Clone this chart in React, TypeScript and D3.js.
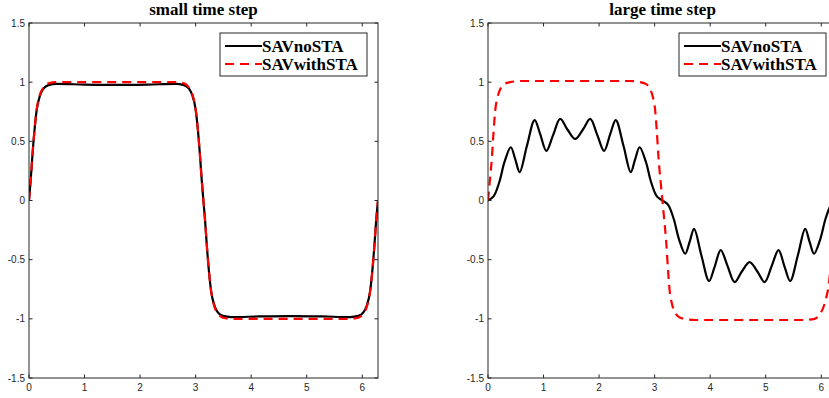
import React from 'react';
import * as d3 from 'd3';

// axis ticks and labels
const xTicks = [0, 1, 2, 3, 4, 5, 6];
const yTicks = [-1.5, -1, -0.5, 0, 0.5, 1, 1.5];
const seriesNames = ['SAVnoSTA', 'SAVwithSTA'];
const titles = ['small time step', 'large time step'];

// small time step: both series share the same x samples
const smallX = [
  0, 0.03, 0.06, 0.1, 0.14, 0.2, 0.26, 0.35, 0.5, 1.0, 1.57, 2.14, 2.64, 2.79, 2.88, 2.94, 3.0, 3.04, 3.08, 3.11, 3.14,
  3.17, 3.2, 3.24, 3.28, 3.34, 3.4, 3.49, 3.64, 4.14, 4.71, 5.28, 5.78, 5.93, 6.02, 6.08, 6.14, 6.18, 6.22, 6.25, 6.283,
];
const smallNoSTA = [
  0, 0.17, 0.37, 0.6, 0.77, 0.89, 0.945, 0.975, 0.985, 0.98, 0.977, 0.98, 0.985, 0.975, 0.945, 0.89, 0.77, 0.6, 0.37, 0.17, 0,
  -0.17, -0.37, -0.6, -0.77, -0.89, -0.945, -0.975, -0.985, -0.98, -0.977, -0.98, -0.985, -0.975, -0.945, -0.89, -0.77, -0.6, -0.37, -0.17, 0,
];
const smallWithSTA = [
  0, 0.17, 0.37, 0.6, 0.77, 0.9, 0.955, 0.99, 1.0, 1.0, 1.0, 1.0, 1.0, 0.99, 0.955, 0.9, 0.77, 0.6, 0.37, 0.17, 0,
  -0.17, -0.37, -0.6, -0.77, -0.9, -0.955, -0.99, -1.0, -1.0, -1.0, -1.0, -1.0, -0.99, -0.955, -0.9, -0.77, -0.6, -0.37, -0.17, 0,
];

// large time step
const largeNoX = [
  0, 0.1, 0.2, 0.3, 0.41, 0.49, 0.57, 0.7, 0.84, 0.94, 1.05, 1.17, 1.3, 1.43, 1.57, 1.71, 1.84, 1.97, 2.09, 2.2, 2.3, 2.44,
  2.57, 2.65, 2.73, 2.84, 2.94, 3.04, 3.14,
  3.24, 3.34, 3.44, 3.55, 3.63, 3.71, 3.84, 3.98, 4.08, 4.19, 4.31, 4.44, 4.57, 4.71, 4.85, 4.98, 5.11, 5.23, 5.34, 5.44,
  5.58, 5.71, 5.79, 5.87, 5.98, 6.08, 6.18, 6.283,
];
const largeNoSTA = [
  0, 0.035, 0.15, 0.33, 0.45, 0.35, 0.24, 0.46, 0.68, 0.56, 0.42, 0.55, 0.69, 0.6, 0.52, 0.6, 0.69, 0.55, 0.42, 0.56, 0.68, 0.46,
  0.24, 0.35, 0.45, 0.33, 0.15, 0.035, 0,
  -0.035, -0.15, -0.33, -0.45, -0.35, -0.24, -0.46, -0.68, -0.56, -0.42, -0.55, -0.69, -0.6, -0.52, -0.6, -0.69, -0.55, -0.42, -0.56, -0.68,
  -0.46, -0.24, -0.35, -0.45, -0.33, -0.15, -0.035, 0,
];
const largeWithX = [
  0, 0.03, 0.07, 0.1, 0.13, 0.17, 0.22, 0.3, 0.4, 0.6, 1.2, 1.94, 2.54, 2.74, 2.84, 2.92, 2.97, 3.01, 3.04, 3.07, 3.11, 3.14,
  3.17, 3.21, 3.24, 3.27, 3.31, 3.36, 3.44, 3.54, 3.74, 4.34, 5.08, 5.68, 5.88, 5.96, 6.04, 6.1, 6.13, 6.18, 6.23, 6.283,
];
const largeWithSTA = [
  0, 0.15, 0.36, 0.58, 0.76, 0.87, 0.94, 0.985, 1.0, 1.01, 1.01, 1.01, 1.01, 1.0, 0.985, 0.94, 0.87, 0.76, 0.58, 0.36, 0.15, 0,
  -0.15, -0.36, -0.58, -0.76, -0.87, -0.94, -0.985, -1.0, -1.01, -1.01, -1.01, -1.01, -1.0, -0.97, -0.9, -0.8, -0.73, -0.5, -0.25, 0,
];

const W = 829;
const H = 398;
const axColor = '#262626';

type PanelProps = {
  left: number;
  title: string;
  noX: number[];
  noY: number[];
  withX: number[];
  withY: number[];
  smooth: d3.CurveFactory;
};

const Panel = ({ left, title, noX, noY, withX, withY, smooth }: PanelProps) => {
  const x = d3.scaleLinear().domain([0, 2 * Math.PI]).range([left, left + 349]);
  const y = d3.scaleLinear().domain([-1.5, 1.5]).range([378, 23]);
  const [x0, x1] = x.range();
  const [y0, y1] = y.range();
  const clipId = `clip-${left}`;

  const noLine = d3.line<number>().x((d, i) => x(noX[i])).y(d => y(d)).curve(smooth);
  const withLine = d3.line<number>().x((d, i) => x(withX[i])).y(d => y(d)).curve(d3.curveMonotoneX);

  const legX = x1 - 11 - 147;
  const legY = 33;

  return (
    <g>
      <defs>
        <clipPath id={clipId}>
          <rect x={x0} y={y1} width={x1 - x0} height={y0 - y1} />
        </clipPath>
      </defs>
      <text x={(x0 + x1) / 2} y={15} textAnchor="middle" fontFamily="'Liberation Serif', serif"
        fontWeight="bold" fontSize={17} fill="#000">{title}</text>

      {/* curves */}
      <g clipPath={`url(#${clipId})`}>
        <path d={noLine(noY) || ''} fill="none" stroke="#000" strokeWidth={2.2} />
        <path d={withLine(withY) || ''} fill="none" stroke="#ff0000" strokeWidth={2.2} strokeDasharray="9,6" />
      </g>

      {/* box */}
      <rect x={x0} y={y1} width={x1 - x0} height={y0 - y1} fill="none" stroke={axColor} strokeWidth={1} />

      {/* x ticks */}
      {xTicks.map(t => (
        <g key={`x${t}`}>
          <line x1={x(t)} x2={x(t)} y1={y0} y2={y0 - 3.5} stroke={axColor} />
          <line x1={x(t)} x2={x(t)} y1={y1} y2={y1 + 3.5} stroke={axColor} />
          <text x={x(t)} y={y0 + 13} textAnchor="middle" fontFamily="'Liberation Sans', Arial, sans-serif"
            fontSize={10} fill={axColor}>{t}</text>
        </g>
      ))}
      {/* y ticks */}
      {yTicks.map(t => (
        <g key={`y${t}`}>
          <line x1={x0} x2={x0 + 3.5} y1={y(t)} y2={y(t)} stroke={axColor} />
          <line x1={x1} x2={x1 - 3.5} y1={y(t)} y2={y(t)} stroke={axColor} />
          <text x={x0 - 4} y={y(t) + 3.5} textAnchor="end" fontFamily="'Liberation Sans', Arial, sans-serif"
            fontSize={10} fill={axColor}>{t}</text>
        </g>
      ))}

      {/* legend */}
      <rect x={legX} y={legY} width={147} height={43} fill="#fff" stroke={axColor} strokeWidth={1} />
      {seriesNames.map((name, i) => {
        const ry = legY + 13 + i * 18;
        return (
          <g key={name}>
            <line x1={legX + 5} x2={legX + 42} y1={ry} y2={ry}
              stroke={i === 0 ? '#000' : '#ff0000'} strokeWidth={2.2}
              strokeDasharray={i === 0 ? undefined : '9,6'} />
            <text x={legX + 42} y={ry + 6} fontFamily="'Liberation Serif', serif" fontWeight="bold"
              fontSize={17} fill="#000">{name}</text>
          </g>
        );
      })}
    </g>
  );
};

const App = () => (
  <svg width={W} height={H} style={{ position: 'absolute', left: 0, top: 0, background: '#fff' }}>
    <Panel left={29} title={titles[0]} noX={smallX} noY={smallNoSTA} withX={smallX} withY={smallWithSTA}
      smooth={d3.curveMonotoneX} />
    <Panel left={488} title={titles[1]} noX={largeNoX} noY={largeNoSTA} withX={largeWithX} withY={largeWithSTA}
      smooth={d3.curveCatmullRom} />
  </svg>
);

export default App;
